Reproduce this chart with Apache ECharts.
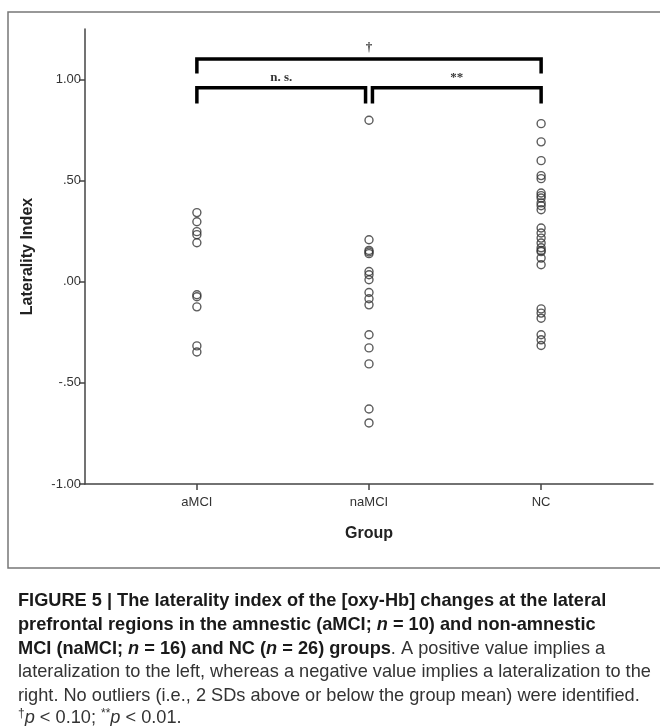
<!DOCTYPE html>
<html>
<head>
<meta charset="utf-8">
<script src="https://cdn.jsdelivr.net/npm/echarts@6/dist/echarts.min.js"></script>
<style>html,body{margin:0;padding:0;background:#fff}#c{width:660px;height:726px}</style>
</head>
<body>
<div id="c"></div>
<script>
// ---- data ----
const categories = ['aMCI', 'naMCI', 'NC'];
const aMCI = [0.342, 0.297, 0.248, 0.233, 0.193, -0.064, -0.074, -0.124, -0.317, -0.347];
const naMCI = [0.799, 0.208, 0.155, 0.147, 0.139, 0.051, 0.035, 0.010, -0.053, -0.084, -0.114, -0.262, -0.327, -0.406, -0.629, -0.698];
const NC = [0.782, 0.692, 0.599, 0.525, 0.510, 0.439, 0.426, 0.414, 0.390, 0.376, 0.356, 0.266, 0.241, 0.216, 0.192, 0.168, 0.155, 0.149, 0.117, 0.084, -0.134, -0.155, -0.180, -0.262, -0.287, -0.315];
const yTickValues = [-1, -0.5, 0, 0.5, 1];
const yTickLabels = ['-1.00', '-.50', '.00', '.50', '1.00'];
const xTickValues = [1, 2, 3];
// brackets: [fromX, toX, barY, legEndY]
const brackets = [
  [1, 3, 1.102, 1.030],
  [1, 1.98, 0.959, 0.881],
  [2.02, 3, 0.959, 0.881]
];
// bracket labels: [x, y, text]
const bracketLabels = [
  [2, 1.160, '†'],
  [1.49, 1.008, 'n. s.'],
  [2.51, 1.008, '**']
];

const groups = [aMCI, naMCI, NC];
const scatterSeries = groups.map((vals, gi) => ({
  type: 'scatter',
  data: vals.map(v => [gi + 1, v]),
  symbol: 'circle',
  symbolSize: 8,
  itemStyle: { color: 'rgba(255,255,255,0)', borderColor: '#333', borderWidth: 1.4 },
  silent: true,
  z: 3
}));

const bracketSeries = brackets.map(b => ({
  type: 'line',
  data: [[b[0], b[3]], [b[0], b[2]], [b[1], b[2]], [b[1], b[3]]],
  symbol: 'none',
  lineStyle: { color: '#000', width: 3.5, join: 'miter', cap: 'butt' },
  silent: true,
  z: 4
}));

const labelSeries = {
  type: 'scatter',
  symbolSize: 0,
  data: bracketLabels.map(l => ({ value: [l[0], l[1]], name: l[2] })),
  label: {
    show: true,
    position: 'inside',
    formatter: p => p.name,
    fontFamily: 'Liberation Serif',
    fontWeight: 'bold',
    fontSize: 13,
    color: '#000'
  },
  silent: true,
  z: 5
};

const capY = [603, 627, 651, 674, 698, 719];
const capLines = [
  '{b|FIGURE 5 | The laterality index of the [oxy-Hb] changes at the lateral}',
  '{b|prefrontal regions in the amnestic (aMCI; }{bi|n}{b| = 10) and non-amnestic}',
  '{b|MCI (naMCI; }{bi|n}{b| = 16) and NC (}{bi|n}{b| = 26) groups}{r|. A positive value implies a}',
  '{r|lateralization to the left, whereas a negative value implies a lateralization to the}',
  '{r|right. No outliers (i.e., 2 SDs above or below the group mean) were identified.}',
  '{sup|†}{i|p}{r| < 0.10; }{sup|**}{i|p}{r| < 0.01.}'
];
const capFont = 'Liberation Sans';
const capSize = 18.2;
const rich = {
  b: { fontFamily: capFont, fontWeight: 'bold', fontSize: capSize, fill: '#1a1a1a' },
  bi: { fontFamily: capFont, fontWeight: 'bold', fontStyle: 'italic', fontSize: capSize, fill: '#1a1a1a' },
  r: { fontFamily: capFont, fontSize: capSize, fill: '#333' },
  i: { fontFamily: capFont, fontStyle: 'italic', fontSize: capSize, fill: '#333' },
  sup: { fontFamily: capFont, fontSize: 12, fill: '#333', verticalAlign: 'top', padding: [0, 0, 8, 0] }
};

const graphics = [
  { type: 'rect', shape: { x: 8, y: 12, width: 660, height: 556 }, style: { fill: 'none', stroke: '#777', lineWidth: 1.5 }, silent: true }
].concat(capLines.map((t, i) => ({
  type: 'text', left: 18, top: capY[i] - 11,
  style: { text: t, rich: rich, font: capSize + 'px Liberation Sans' },
  silent: true
})));

const chart = echarts.init(document.getElementById('c'), null, { renderer: 'canvas' });
chart.setOption({
  animation: false,
  backgroundColor: '#fff',
  grid: { left: 85, right: 7, top: 29, bottom: 242, containLabel: false },
  xAxis: {
    type: 'value', min: 0.35, max: 3.65,
    name: 'Group', nameLocation: 'middle', nameGap: 42,
    nameTextStyle: { fontFamily: 'Liberation Sans', fontWeight: 'bold', fontSize: 16, color: '#222' },
    axisLine: { show: true, onZero: false, lineStyle: { color: '#444', width: 1.5 } },
    axisTick: { show: true, length: 6, customValues: xTickValues, lineStyle: { color: '#444', width: 1.5 } },
    axisLabel: { customValues: xTickValues, formatter: v => categories[Math.round(v) - 1], fontFamily: 'Liberation Sans', fontSize: 13, color: '#333', margin: 12 },
    splitLine: { show: false }
  },
  yAxis: {
    type: 'value', min: -1, max: 1.25,
    name: 'Laterality Index', nameLocation: 'middle', nameGap: 49, nameRotate: 90,
    nameTextStyle: { fontFamily: 'Liberation Sans', fontWeight: 'bold', fontSize: 16, color: '#222' },
    axisLine: { show: true, onZero: false, lineStyle: { color: '#444', width: 1.5 } },
    axisTick: { show: true, length: 6, customValues: yTickValues, lineStyle: { color: '#444', width: 1.5 } },
    axisLabel: { customValues: yTickValues, formatter: v => yTickLabels[yTickValues.indexOf(v)] || '', fontFamily: 'Liberation Sans', fontSize: 13, color: '#333', margin: 4 },
    splitLine: { show: false }
  },
  series: scatterSeries.concat(bracketSeries, [labelSeries]),
  graphic: graphics
});
</script>
</body>
</html>
